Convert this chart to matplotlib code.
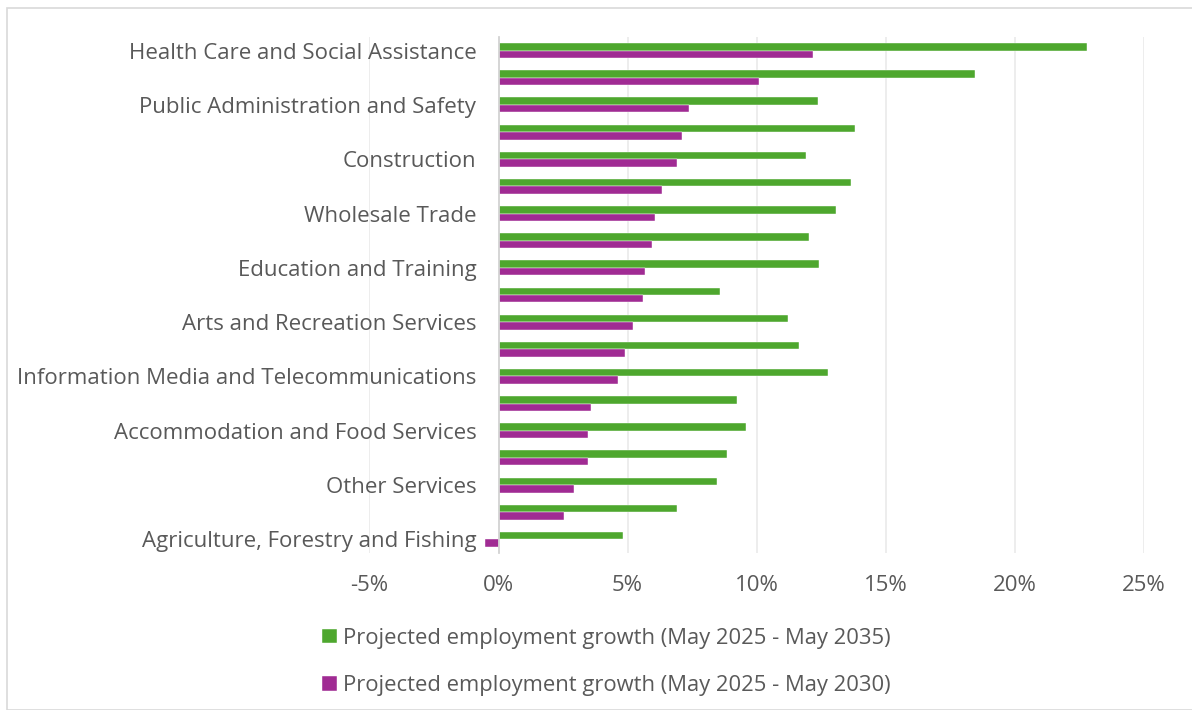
import matplotlib
matplotlib.use("Agg")
import matplotlib.pyplot as plt
import numpy as np
from matplotlib.ticker import FuncFormatter, MultipleLocator
from matplotlib.patches import Rectangle

categories = [
    "Health Care and Social Assistance",
    "Professional, Scientific and Technical Services",
    "Public Administration and Safety",
    "Financial and Insurance Services",
    "Construction",
    "Electricity, Gas, Water and Waste Services",
    "Wholesale Trade",
    "Transport, Postal and Warehousing",
    "Education and Training",
    "Mining",
    "Arts and Recreation Services",
    "Administrative and Support Services",
    "Information Media and Telecommunications",
    "Rental, Hiring and Real Estate Services",
    "Accommodation and Food Services",
    "Retail Trade",
    "Other Services",
    "Manufacturing",
    "Agriculture, Forestry and Fishing",
]
growth_2035 = [22.81, 18.47, 12.38, 13.81, 11.91, 13.67, 13.07, 12.03, 12.41, 8.59,
               11.22, 11.64, 12.78, 9.24, 9.57, 8.86, 8.45, 6.90, 4.83]
growth_2030 = [12.19, 10.09, 7.36, 7.12, 6.91, 6.34, 6.05, 5.93, 5.67, 5.59,
               5.22, 4.90, 4.62, 3.57, 3.47, 3.47, 2.91, 2.53, -0.53]
series_names = ["Projected employment growth (May 2025 - May 2035)",
                "Projected employment growth (May 2025 - May 2030)"]

GREEN = "#4EA72E"
PURPLE = "#A02B93"
TXT = "#595959"
FONT = "Open Sans"
FS = 16

plt.rcParams['font.family'] = [FONT, 'DejaVu Sans']

fig = plt.figure(figsize=(11.92, 7.10), dpi=100)
ax = fig.add_axes([369.4 / 1192, 1 - 553 / 710, (1144 - 369.4) / 1192, (553 - 37) / 710])

n = len(categories)
pos = np.arange(n)
h = 0.275
ax.barh(pos - h / 2, growth_2035, height=h, color=GREEN, edgecolor="white", linewidth=0.3,
        label=series_names[0], zorder=3)
ax.barh(pos + h / 2, growth_2030, height=h, color=PURPLE, edgecolor="white", linewidth=0.3,
        label=series_names[1], zorder=3)

ax.set_ylim(n - 0.5, -0.5)
ax.set_xlim(-5, 25)
ax.xaxis.set_major_locator(MultipleLocator(5))
ax.xaxis.set_major_formatter(FuncFormatter(lambda v, p: f"{v:.0f}%"))
ax.grid(axis="x", color="#e8e8e8", linewidth=1.1, zorder=0)
ax.set_axisbelow(True)

for s in ["top", "right", "bottom"]:
    ax.spines[s].set_visible(False)
ax.spines["left"].set_position(("data", 0))
ax.spines["left"].set_color("#d4d4d4")
ax.spines["left"].set_linewidth(1.3)
ax.spines["left"].set_zorder(4)

ax.set_yticks(pos[::2], categories[::2])
ax.tick_params(axis="y", length=0, pad=16, labelsize=FS, labelcolor=TXT)
ax.tick_params(axis="x", length=0, pad=16, labelsize=FS, labelcolor=TXT)

leg = fig.legend(loc="center", bbox_to_anchor=(606.5 / 1192, 1 - 662 / 710), ncol=1,
                 frameon=False, fontsize=15.8, handlelength=0.65, handleheight=0.65,
                 handletextpad=0.3, labelspacing=1.2, borderpad=0)
for t in leg.get_texts():
    t.set_color(TXT)

fig.patches.append(Rectangle((7 / 1192, 0), 1.1, 1 - 8 / 710, transform=fig.transFigure,
                             fill=False, edgecolor="#d9d9d9", linewidth=1.2, zorder=0))

fig.savefig("out.png", dpi=100)
